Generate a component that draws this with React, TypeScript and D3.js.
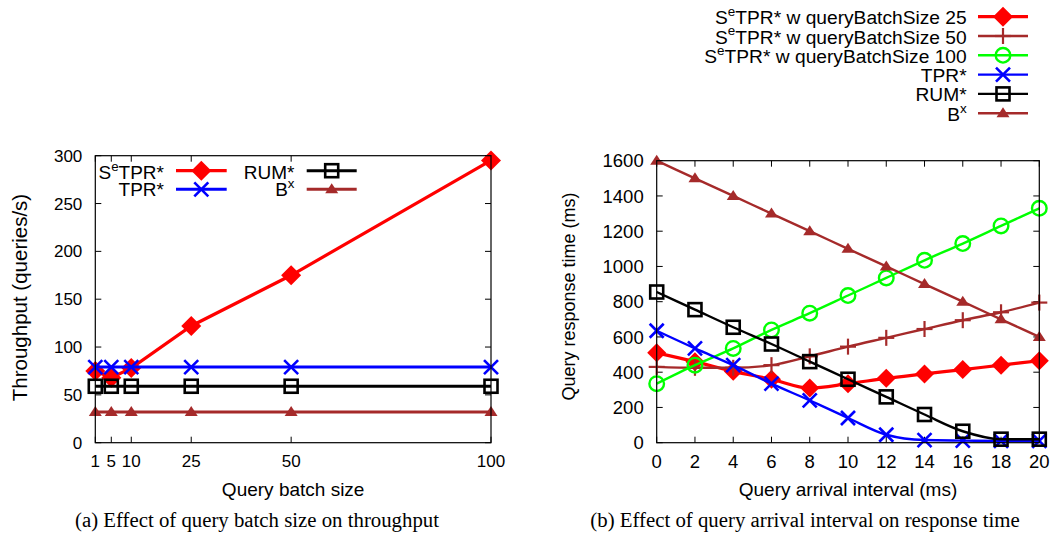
import React from "react";
import * as d3 from "d3";

// ---------- Data ----------
const batchSizes = [1, 5, 10, 25, 50, 100];
const tpSeTPR = [75, 68, 78, 122, 175, 295];
const tpTPR = [79, 79, 79, 79, 79, 79];
const tpRUM = [59, 59, 59, 59, 59, 59];
const tpBx = [32, 32, 32, 32, 32, 32];
const leftYTicks = [0, 50, 100, 150, 200, 250, 300];

const intervals = [0, 2, 4, 6, 8, 10, 12, 14, 16, 18, 20];
const rtSe25 = [510, 460, 405, 360, 310, 335, 365, 390, 415, 440, 465];
const rtSe50 = [430, 425, 425, 440, 490, 545, 595, 645, 695, 740, 795];
const rtSe100 = [335, 440, 535, 640, 735, 835, 935, 1035, 1130, 1230, 1330];
const rtTPR = [635, 535, 440, 335, 240, 140, 45, 15, 12, 10, 10];
const rtRUM = [855, 755, 655, 560, 460, 360, 260, 160, 65, 20, 20];
const rtBx = [1600, 1500, 1400, 1300, 1200, 1100, 1000, 900, 800, 700, 600];
const rightYTicks = [0, 200, 400, 600, 800, 1000, 1200, 1400, 1600];

const RED = "#ff0000";
const BLUE = "#0000ff";
const BLACK = "#000000";
const BROWN = "#a52a2a";
const GREEN = "#00ff00";

const SANS = "'Liberation Sans', Arial, Helvetica, sans-serif";
const SERIF = "'Liberation Serif', 'Times New Roman', serif";

type MarkerKind = "diamond" | "cross" | "square" | "triangle" | "plus" | "circle";

function Marker({ kind, x, y, color, scale = 1 }: { kind: MarkerKind; x: number; y: number; color: string; scale?: number }) {
  const s = scale;
  switch (kind) {
    case "diamond": {
      const r = 10 * s;
      return <polygon points={`${x},${y - r} ${x + r},${y} ${x},${y + r} ${x - r},${y}`} fill={color} />;
    }
    case "cross": {
      const r = 7 * s;
      return (
        <g stroke={color} strokeWidth={2.6}>
          <line x1={x - r} y1={y - r} x2={x + r} y2={y + r} />
          <line x1={x - r} y1={y + r} x2={x + r} y2={y - r} />
        </g>
      );
    }
    case "plus": {
      const r = 8 * s;
      return (
        <g stroke={color} strokeWidth={2.2}>
          <line x1={x - r} y1={y} x2={x + r} y2={y} />
          <line x1={x} y1={y - r} x2={x} y2={y + r} />
        </g>
      );
    }
    case "square": {
      const r = 6.5 * s;
      return <rect x={x - r} y={y - r} width={2 * r} height={2 * r} fill="none" stroke={color} strokeWidth={2.6} />;
    }
    case "circle": {
      return <circle cx={x} cy={y} r={7.3 * s} fill="none" stroke={color} strokeWidth={2.4} />;
    }
    case "triangle": {
      const w = 6.5 * s;
      const h = 10 * s;
      return <polygon points={`${x},${y - h * 0.6} ${x + w},${y + h * 0.4} ${x - w},${y + h * 0.4}`} fill={color} />;
    }
  }
  return null;
}

function SupText({ base, sup, rest, x, y, size, anchor = "end" }: { base: string; sup: string; rest: string; x: number; y: number; size: number; anchor?: string }) {
  return (
    <text x={x} y={y} fontSize={size} fontFamily={SANS} textAnchor={anchor as any} fill="#000">
      <tspan>{base}</tspan>
      {sup ? (
        <tspan fontSize={size * 0.7} dy={-size * 0.42}>
          {sup}
        </tspan>
      ) : null}
      {sup ? <tspan dy={size * 0.42}>{rest}</tspan> : <tspan>{rest}</tspan>}
    </text>
  );
}

export default function App() {
  // Left chart scales
  const L = { x0: 95.3, x1: 491, y0: 442.7, y1: 155.7 };
  const xL = d3.scaleLinear().domain([1, 100]).range([L.x0, L.x1]);
  const yL = d3.scaleLinear().domain([0, 300]).range([L.y0, L.y1]);

  // Right chart scales
  const R = { x0: 656.7, x1: 1039.3, y0: 442.7, y1: 160.7 };
  const xR = d3.scaleLinear().domain([0, 20]).range([R.x0, R.x1]);
  const yR = d3.scaleLinear().domain([0, 1600]).range([R.y0, R.y1]);

  const lineL = (vals: number[]) =>
    d3
      .line<number>()
      .x((_, i) => xL(batchSizes[i]))
      .y((d) => yL(d))(vals) || "";
  const lineR = (vals: number[]) =>
    d3
      .line<number>()
      .x((_, i) => xR(intervals[i]))
      .y((d) => yR(d))
      .curve(d3.curveMonotoneX)(vals) || "";

  const tickLen = 6;
  const tickFontL = 17;
  const tickFontR = 18.5;

  const leftSeries: { vals: number[]; color: string; kind: MarkerKind; w: number }[] = [
    { vals: tpSeTPR, color: RED, kind: "diamond", w: 3.2 },
    { vals: tpTPR, color: BLUE, kind: "cross", w: 3 },
    { vals: tpRUM, color: BLACK, kind: "square", w: 3 },
    { vals: tpBx, color: BROWN, kind: "triangle", w: 3 },
  ];

  const rightSeries: { vals: number[]; color: string; kind: MarkerKind; w: number }[] = [
    { vals: rtSe25, color: RED, kind: "diamond", w: 3.2 },
    { vals: rtSe50, color: BROWN, kind: "plus", w: 2.4 },
    { vals: rtSe100, color: GREEN, kind: "circle", w: 2.4 },
    { vals: rtTPR, color: BLUE, kind: "cross", w: 2.4 },
    { vals: rtRUM, color: BLACK, kind: "square", w: 2.4 },
    { vals: rtBx, color: BROWN, kind: "triangle", w: 2.4 },
  ];

  const rightLegend = [
    { base: "S", sup: "e", rest: "TPR* w queryBatchSize 25", color: RED, kind: "diamond" as MarkerKind, w: 3.2 },
    { base: "S", sup: "e", rest: "TPR* w queryBatchSize 50", color: BROWN, kind: "plus" as MarkerKind, w: 2.4 },
    { base: "S", sup: "e", rest: "TPR* w queryBatchSize 100", color: GREEN, kind: "circle" as MarkerKind, w: 2.4 },
    { base: "TPR*", sup: "", rest: "", color: BLUE, kind: "cross" as MarkerKind, w: 2.4 },
    { base: "RUM*", sup: "", rest: "", color: BLACK, kind: "square" as MarkerKind, w: 2.4 },
    { base: "B", sup: "x", rest: "", color: BROWN, kind: "triangle" as MarkerKind, w: 2.4 },
  ];

  return (
    <svg
      width={1054}
      height={545}
      viewBox="0 0 1054 545"
      style={{ position: "absolute", left: 0, top: 0, background: "#fff" }}
    >
      <rect x={0} y={0} width={1054} height={545} fill="#fff" />

      {/* ================= LEFT CHART ================= */}
      <g>
        {leftYTicks.map((t) => (
          <g key={"ly" + t}>
            <line x1={L.x0} x2={L.x0 + tickLen} y1={yL(t)} y2={yL(t)} stroke="#000" strokeWidth={1} />
            <line x1={L.x1} x2={L.x1 - tickLen} y1={yL(t)} y2={yL(t)} stroke="#000" strokeWidth={1} />
            <text x={L.x0 - 13} y={yL(t)} dy="0.36em" fontSize={tickFontL} fontFamily={SANS} textAnchor="end">
              {t}
            </text>
          </g>
        ))}
        {batchSizes.map((t) => (
          <g key={"lx" + t}>
            <line x1={xL(t)} x2={xL(t)} y1={L.y0} y2={L.y0 - tickLen} stroke="#000" strokeWidth={1} />
            <line x1={xL(t)} x2={xL(t)} y1={L.y1} y2={L.y1 + tickLen} stroke="#000" strokeWidth={1} />
            <text x={xL(t)} y={467} fontSize={tickFontL} fontFamily={SANS} textAnchor="middle">
              {t}
            </text>
          </g>
        ))}
        {leftSeries.map((s, si) => (
          <g key={"ls" + si}>
            <path d={lineL(s.vals)} fill="none" stroke={s.color} strokeWidth={s.w} />
            {s.vals.map((v, i) => (
              <Marker key={i} kind={s.kind} x={xL(batchSizes[i])} y={yL(v)} color={s.color} />
            ))}
          </g>
        ))}
        {/* legend */}
        <SupText base="S" sup="e" rest="TPR*" x={164} y={178.5} size={19} />
        <line x1={176} x2={226.7} y1={170.7} y2={170.7} stroke={RED} strokeWidth={3.2} />
        <Marker kind="diamond" x={201.3} y={170.7} color={RED} />
        <SupText base="TPR*" sup="" rest="" x={164} y={196} size={19} />
        <line x1={176} x2={226.7} y1={189.3} y2={189.3} stroke={BLUE} strokeWidth={3} />
        <Marker kind="cross" x={201.3} y={189.3} color={BLUE} />
        <SupText base="RUM*" sup="" rest="" x={294.5} y={178.5} size={19} />
        <line x1={306.7} x2={356.7} y1={170.7} y2={170.7} stroke={BLACK} strokeWidth={3} />
        <Marker kind="square" x={331.7} y={170.7} color={BLACK} />
        <SupText base="B" sup="x" rest="" x={294.5} y={196} size={19} />
        <line x1={306.7} x2={356.7} y1={189.3} y2={189.3} stroke={BROWN} strokeWidth={3} />
        <Marker kind="triangle" x={331.7} y={189.3} color={BROWN} />

        <rect x={L.x0} y={L.y1} width={L.x1 - L.x0} height={L.y0 - L.y1} fill="none" stroke="#000" strokeWidth={1.2} />
        <text transform={`translate(27,297.5) rotate(-90)`} fontSize={20.5} fontFamily={SANS} textAnchor="middle">
          Throughput (queries/s)
        </text>
        <text x={(L.x0 + L.x1) / 2} y={496} fontSize={19} fontFamily={SANS} textAnchor="middle">
          Query batch size
        </text>
        <text x={257} y={527} fontSize={20.8} fontFamily={SERIF} textAnchor="middle">
          (a)  Effect of query batch size on throughput
        </text>
      </g>

      {/* ================= RIGHT CHART ================= */}
      <g>
        {rightYTicks.map((t) => (
          <g key={"ry" + t}>
            <line x1={R.x0} x2={R.x0 + tickLen} y1={yR(t)} y2={yR(t)} stroke="#000" strokeWidth={1} />
            <line x1={R.x1} x2={R.x1 - tickLen} y1={yR(t)} y2={yR(t)} stroke="#000" strokeWidth={1} />
            <text x={R.x0 - 13} y={yR(t)} dy="0.36em" fontSize={tickFontR} fontFamily={SANS} textAnchor="end">
              {t}
            </text>
          </g>
        ))}
        {intervals.map((t) => (
          <g key={"rx" + t}>
            <line x1={xR(t)} x2={xR(t)} y1={R.y0} y2={R.y0 - tickLen} stroke="#000" strokeWidth={1} />
            <line x1={xR(t)} x2={xR(t)} y1={R.y1} y2={R.y1 + tickLen} stroke="#000" strokeWidth={1} />
            <text x={xR(t)} y={468} fontSize={tickFontR} fontFamily={SANS} textAnchor="middle">
              {t}
            </text>
          </g>
        ))}
        {rightSeries.map((s, si) => (
          <g key={"rs" + si}>
            <path d={lineR(s.vals)} fill="none" stroke={s.color} strokeWidth={s.w} />
            {s.vals.map((v, i) => (
              <Marker key={i} kind={s.kind} x={xR(intervals[i])} y={yR(v)} color={s.color} scale={s.kind === "diamond" ? 0.95 : 1} />
            ))}
          </g>
        ))}
        <rect x={R.x0} y={R.y1} width={R.x1 - R.x0} height={R.y0 - R.y1} fill="none" stroke="#000" strokeWidth={1.2} />

        {rightLegend.map((e, i) => {
          const ly = 16.7 + i * 19.3;
          return (
            <g key={"rl" + i}>
              <SupText base={e.base} sup={e.sup} rest={e.rest} x={966.7} y={ly + 7.5} size={19.2} />
              <line x1={978} x2={1028} y1={ly} y2={ly} stroke={e.color} strokeWidth={e.w} />
              <Marker kind={e.kind} x={1003} y={ly} color={e.color} />
            </g>
          );
        })}

        <text transform={`translate(575,296.5) rotate(-90)`} fontSize={18} fontFamily={SANS} textAnchor="middle">
          Query response time (ms)
        </text>
        <text x={(R.x0 + R.x1) / 2} y={496} fontSize={19} fontFamily={SANS} textAnchor="middle">
          Query arrival interval (ms)
        </text>
        <text x={805} y={527} fontSize={20.8} fontFamily={SERIF} textAnchor="middle">
          (b)  Effect of query arrival interval on response time
        </text>
      </g>
    </svg>
  );
}
